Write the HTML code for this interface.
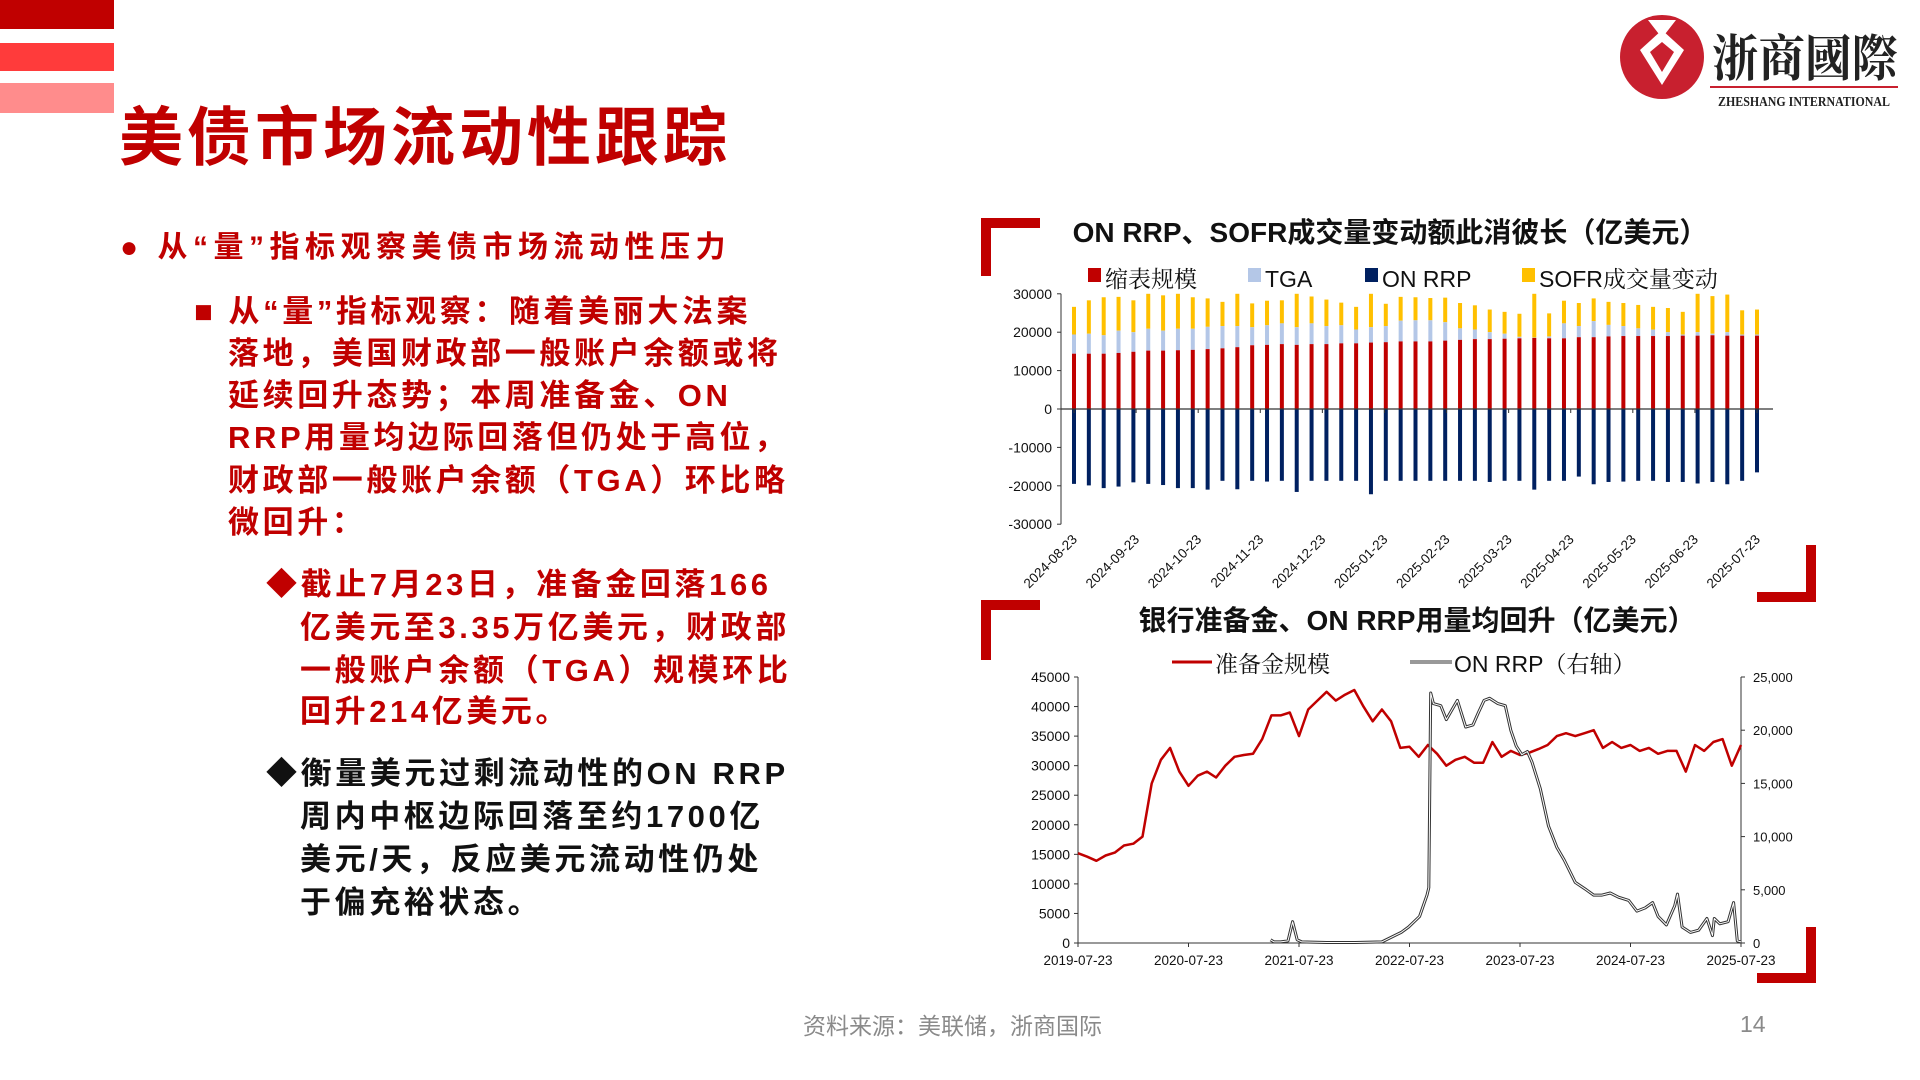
<!DOCTYPE html>
<html><head><meta charset="utf-8">
<style>
html,body{margin:0;padding:0;width:1920px;height:1080px;overflow:hidden;background:#fff;}
body{position:relative;font-family:"Liberation Sans","Noto Sans CJK SC",sans-serif;}
.ln{position:absolute;font-weight:bold;font-size:31px;letter-spacing:3.6px;white-space:nowrap;line-height:1;}
.r{color:#c00000}.k{color:#111}
</style></head><body>
<div style="position:absolute;left:0;top:0;width:114px;height:29px;background:#c00000"></div>
<div style="position:absolute;left:0;top:43px;width:114px;height:28px;background:#ff3b3b"></div>
<div style="position:absolute;left:0;top:83px;width:114px;height:30px;background:#ff8c8c"></div>
<div style="position:absolute;left:119px;top:106px;font-size:64px;font-weight:bold;color:#c00000;letter-spacing:4px;line-height:1">美债市场流动性跟踪</div>

<svg style="position:absolute;left:1610px;top:10px" width="300" height="110">
<circle cx="52" cy="47" r="42" fill="#c8202f"/>
<path d="M38 10 L66 10 L52 28 Z M30 40 L52 20 L74 40 L52 75 Z" fill="#fff"/>
<path d="M40 42 L52 32 L64 42 L52 62 Z" fill="#c8202f"/>
<text x="102" y="66" font-family="Liberation Serif,Noto Serif CJK SC,serif" font-weight="bold" font-size="50" fill="#222" textLength="186" lengthAdjust="spacingAndGlyphs">浙商國際</text>
<rect x="100" y="76" width="188" height="2" fill="#c8202f"/>
<text x="108" y="96" font-family="Liberation Serif,serif" font-weight="bold" font-size="14" fill="#222" textLength="172" lengthAdjust="spacingAndGlyphs">ZHESHANG INTERNATIONAL</text>
</svg>

<div>
<div class="ln r" style="left:120px;top:233px;font-size:30px;letter-spacing:5.5px">● 从“量”指标观察美债市场流动性压力</div>
</div>
<div>
<div class="ln r" style="left:194px;top:296px">■ 从“量”指标观察：随着美丽大法案</div>
<div class="ln r" style="left:228px;top:338px">落地，美国财政部一般账户余额或将</div>
<div class="ln r" style="left:228px;top:380px">延续回升态势；本周准备金、ON</div>
<div class="ln r" style="left:228px;top:422px">RRP用量均边际回落但仍处于高位，</div>
<div class="ln r" style="left:228px;top:465px">财政部一般账户余额（TGA）环比略</div>
<div class="ln r" style="left:228px;top:507px">微回升：</div>
</div>
<div>
<div class="ln r" style="left:266px;top:569px">◆截止7月23日，准备金回落166</div>
<div class="ln r" style="left:300px;top:612px">亿美元至3.35万亿美元，财政部</div>
<div class="ln r" style="left:300px;top:655px">一般账户余额（TGA）规模环比</div>
<div class="ln r" style="left:300px;top:696px">回升214亿美元。</div>
</div>
<div>
<div class="ln k" style="left:266px;top:758px">◆衡量美元过剩流动性的ON RRP</div>
<div class="ln k" style="left:300px;top:801px">周内中枢边际回落至约1700亿</div>
<div class="ln k" style="left:300px;top:844px">美元/天，反应美元流动性仍处</div>
<div class="ln k" style="left:300px;top:887px">于偏充裕状态。</div>
</div>

<svg id="deco" style="position:absolute;left:0;top:0" width="1920" height="1080">
<path d="M981 218 H1040 V228 H991 V276 H981 Z" fill="#c00000"/>
<path d="M1816 545 V602 H1757 V592 H1806 V545 Z" fill="#c00000"/>
<path d="M981 600 H1040 V610 H991 V660 H981 Z" fill="#c00000"/>
<path d="M1816 927 V983 H1757 V973 H1806 V927 Z" fill="#c00000"/>
</svg>

<svg id="c1" style="position:absolute;left:0;top:0" width="1920" height="1080"></svg>
<svg id="c2" style="position:absolute;left:0;top:0" width="1920" height="1080"></svg>

<div style="position:absolute;left:803px;top:1007px;font-size:23px;color:#8a8a8a;white-space:nowrap">资料来源：美联储，浙商国际</div>
<div style="position:absolute;left:1740px;top:1011px;font-size:23px;color:#8a8a8a">14</div>

<script>
// ---- Chart 1 data ----
const reserveVals=[14.4,14.4,14.4,14.6,14.9,15.2,15.2,15.3,15.4,15.6,15.8,16.1,16.6,16.7,16.9,16.7,16.9,16.9,17.1,17.1,17.3,17.4,17.6,17.6,17.6,17.8,18.0,18.2,18.2,18.3,18.4,18.5,18.4,18.4,18.7,18.7,18.9,19.0,19.0,19.0,19.0,19.1,19.1,19.2,19.1,19.1,19.1];
const tgaVals=[19.4,19.6,19.2,20.4,20.0,20.9,20.4,20.9,20.9,21.4,21.6,21.6,21.3,21.8,22.3,21.3,22.3,21.6,21.8,20.7,21.3,21.6,23.0,23.1,23.1,22.6,21.0,20.7,20.0,19.6,18.8,18.6,18.9,22.3,21.6,22.9,21.9,21.6,21.0,20.7,20.0,19.4,20.0,19.6,20.0,19.4,19.4];
const sofrVals=[26.6,28.3,29.1,29.2,28.3,30.0,29.6,30.0,29.1,28.8,27.9,30.0,27.5,28.2,28.3,30.0,29.3,28.5,27.7,26.6,30.0,27.4,29.2,29.1,28.9,29.0,27.6,27.0,25.9,25.3,24.8,30.0,24.9,28.2,27.6,28.8,27.9,27.6,27.1,26.6,26.3,25.3,30.0,29.4,29.8,25.7,25.9];
const rrpVals=[-19.5,-19.9,-20.6,-20.2,-19.1,-19.5,-19.8,-20.6,-20.6,-21.0,-18.7,-20.9,-18.7,-18.9,-18.7,-21.6,-18.7,-18.7,-18.7,-18.7,-22.2,-18.7,-18.7,-18.7,-18.7,-18.7,-18.7,-18.7,-19.0,-18.7,-18.7,-21.0,-18.7,-18.7,-17.6,-19.6,-19.0,-18.9,-18.7,-18.7,-19.0,-19.0,-19.4,-19.0,-19.6,-18.7,-16.5];
const c1YTicks=[30000,20000,10000,0,-10000,-20000,-30000];
const c1XLabels=["2024-08-23","2024-09-23","2024-10-23","2024-11-23","2024-12-23","2025-01-23","2025-02-23","2025-03-23","2025-04-23","2025-05-23","2025-06-23","2025-07-23"];

// ---- Chart 2 data ----
const resMonthly=[15.2,14.6,13.9,14.8,15.3,16.5,16.8,18.0,27.0,31.0,33.0,29.0,26.6,28.3,29.0,28.0,30.0,31.5,31.8,32.0,34.5,38.5,38.5,39.0,35.0,39.5,41.0,42.5,41.0,42.0,42.8,40.0,37.5,39.5,37.5,33.0,33.2,31.5,33.5,32.0,30.0,31.0,31.5,30.5,30.5,34.0,31.5,32.5,31.8,32.2,32.8,33.5,35.0,35.5,35.0,35.5,36.0,33.0,34.0,33.0,33.5,32.5,33.0,32.0,32.5,32.5,29.0,33.5,32.5,34.0,34.5,30.0,33.5];
const rrpMonths=[20.9,21.3,22.0,22.8,23.3,23.8,24.3,27,30.1,33,35.1,35.9,37.1,37.9,38.1,38.3,38.6,39.4,40.0,41.2,42.1,42.9,43.5,44.1,44.7,45.6,46.4,47.0,47.6,48.2,48.8,49.3,50.2,51.1,52.0,52.8,54.0,55.2,56.0,56.9,57.8,58.7,59.8,60.7,61.6,62.4,63.0,63.9,64.8,65.1,65.6,66.5,67.4,68.3,68.9,69.1,69.7,70.6,71.2,71.6,72.0];
const rrpVals2=[0.3,0.1,0.1,0.2,2.0,0.3,0.1,0.05,0.05,0.1,1.0,1.5,2.5,4.5,5.2,23.5,22.5,22.3,21.0,22.8,20.3,20.5,21.7,22.8,23.0,22.5,22.3,20.0,18.5,17.7,18.0,17.0,14.5,11.0,9.0,7.8,5.7,5.0,4.5,4.5,4.7,4.3,4.0,3.0,3.3,3.8,2.5,1.7,3.5,4.6,1.5,1.0,1.2,2.3,0.7,2.3,1.8,2.0,3.8,0.2,0.1];
const c2LeftTicks=[45000,40000,35000,30000,25000,20000,15000,10000,5000,0];
const c2RightTicks=["25,000","20,000","15,000","10,000","5,000","0"];
const c2XLabels=["2019-07-23","2020-07-23","2021-07-23","2022-07-23","2023-07-23","2024-07-23","2025-07-23"];

const NS="http://www.w3.org/2000/svg";
function mk(p,t,a,txt){const e=document.createElementNS(NS,t);for(const k in a)e.setAttribute(k,a[k]);if(txt!==undefined)e.textContent=txt;p.appendChild(e);return e;}
const FONT='"Liberation Sans","Noto Sans CJK SC",sans-serif';
const LFONT='"Liberation Sans","Noto Serif CJK SC",serif';

// ===== Chart 1 =====
(function(){
const s=document.getElementById('c1');
const x0=1074,x1=1757,yZero=409,perK=3.84;
const N=reserveVals.length;
const xb=i=>x0+(x1-x0)*i/(N-1);
const yv=v=>yZero-v*perK;
let t=mk(s,'text',{x:1390,y:242,'text-anchor':'middle','font-family':FONT,'font-weight':'bold','font-size':28,fill:'#111'},'ON RRP、SOFR成交量变动额此消彼长（亿美元）');

const leg=[["#c00000","缩表规模",1088],["#b4c7e7","TGA",1248],["#002060","ON RRP",1365],["#ffc000","SOFR成交量变动",1522]];
leg.forEach(l=>{const g=mk(s,'g',{});
mk(g,'rect',{x:l[2],y:268,width:13,height:14,fill:l[0]});
mk(g,'text',{x:l[2]+17,y:287,'font-family':LFONT,'font-size':23,fill:'#111'},l[1]);});
const ax=mk(s,'g',{});
mk(ax,'line',{x1:1061,y1:yv(30),x2:1061,y2:yv(-30),stroke:'#333','stroke-width':1});
c1YTicks.forEach(v=>{const y=yv(v/1000);mk(ax,'line',{x1:1057,y1:y,x2:1061,y2:y,stroke:'#333'});
mk(ax,'text',{x:1052,y:y+5,'text-anchor':'end','font-family':FONT,'font-size':14,fill:'#111'},String(v));});
const bw=4;
for(let i=0;i<N;i++){const x=xb(i);const g=mk(s,'g',{});

mk(g,'rect',{x:x-bw/2,y:yv(sofrVals[i]),width:bw,height:yv(tgaVals[i])-yv(sofrVals[i]),fill:'#ffc000'});
mk(g,'rect',{x:x-bw/2,y:yv(tgaVals[i]),width:bw,height:yv(reserveVals[i])-yv(tgaVals[i]),fill:'#b4c7e7'});
mk(g,'rect',{x:x-bw/2,y:yv(reserveVals[i]),width:bw,height:yZero-yv(reserveVals[i]),fill:'#c00000'});
mk(g,'rect',{x:x-bw/2,y:yZero,width:bw,height:yv(rrpVals[i])-yZero,fill:'#002060'});}
const xa=mk(s,'g',{});
mk(xa,'line',{x1:1061,y1:yZero,x2:1773,y2:yZero,stroke:'#333','stroke-width':1.2});
c1XLabels.forEach((l,k)=>{const x=x0+(x1-x0)*k/(c1XLabels.length-1);
mk(xa,'line',{x1:x,y1:yZero,x2:x,y2:yZero+4,stroke:'#333'});
mk(xa,'text',{transform:`translate(${x+4},${yv(-30)+16}) rotate(-45)`,'text-anchor':'end','font-family':FONT,'font-size':13.5,fill:'#111'},l);});
})();

// ===== Chart 2 =====
(function(){
const s=document.getElementById('c2');
const xL=1078,xR=1741,yB=943,yT=677;
const xm=m=>xL+(xR-xL)*m/72;
const yl=v=>yB-(yB-yT)*v/45000;
const yr=v=>yB-(yB-yT)*v/25;
let t=mk(s,'text',{x:1417,y:630,'text-anchor':'middle','font-family':FONT,'font-weight':'bold','font-size':28,fill:'#111'},'银行准备金、ON RRP用量均回升（亿美元）');

let g=mk(s,'g',{});
mk(g,'line',{x1:1172,y1:662,x2:1212,y2:662,stroke:'#c00000','stroke-width':3});
mk(g,'text',{x:1215,y:672,'font-family':LFONT,'font-size':23,fill:'#111'},'准备金规模');
g=mk(s,'g',{});
mk(g,'line',{x1:1410,y1:662,x2:1452,y2:662,stroke:'#333','stroke-width':3});
mk(g,'line',{x1:1410,y1:662,x2:1452,y2:662,stroke:'#fff','stroke-width':1});
mk(g,'text',{x:1454,y:672,'font-family':LFONT,'font-size':23,fill:'#111'},'ON RRP（右轴）');
const ax=mk(s,'g',{});
mk(ax,'line',{x1:xL,y1:yT,x2:xL,y2:yB,stroke:'#333'});
mk(ax,'line',{x1:xR,y1:yT,x2:xR,y2:yB,stroke:'#333'});
mk(ax,'line',{x1:xL,y1:yB,x2:xR,y2:yB,stroke:'#333'});
c2LeftTicks.forEach(v=>{const y=yl(v);mk(ax,'line',{x1:xL-4,y1:y,x2:xL,y2:y,stroke:'#333'});
mk(ax,'text',{x:xL-8,y:y+5,'text-anchor':'end','font-family':FONT,'font-size':14,fill:'#111'},String(v));});
c2RightTicks.forEach((l,k)=>{const v=25-5*k;const y=yr(v);mk(ax,'line',{x1:xR,y1:y,x2:xR+4,y2:y,stroke:'#333'});
mk(ax,'text',{x:xR+12,y:y+5,'font-family':FONT,'font-size':13,fill:'#111'},l);});
c2XLabels.forEach((l,k)=>{const x=xm(k*12);mk(ax,'line',{x1:x,y1:yB,x2:x,y2:yB+4,stroke:'#333'});
mk(ax,'text',{x:x,y:yB+22,'text-anchor':'middle','font-family':FONT,'font-size':13.5,fill:'#111'},l);});
let d=resMonthly.map((v,i)=>(i?'L':'M')+xm(i).toFixed(1)+' '+yl(v*1000).toFixed(1)).join(' ');
const p1=mk(s,'path',{d:d,fill:'none',stroke:'#c00000','stroke-width':2.5,'stroke-linejoin':'round'});

let d2=rrpVals2.map((v,i)=>(i?'L':'M')+xm(rrpMonths[i]).toFixed(1)+' '+yr(v).toFixed(1)).join(' ');
const p2=mk(s,'path',{d:d2,fill:'none',stroke:'#333','stroke-width':3,'stroke-linejoin':'round'});

const p3=mk(s,'path',{d:d2,fill:'none',stroke:'#fff','stroke-width':1,'stroke-linejoin':'round'});

})();
</script>
</body></html>
